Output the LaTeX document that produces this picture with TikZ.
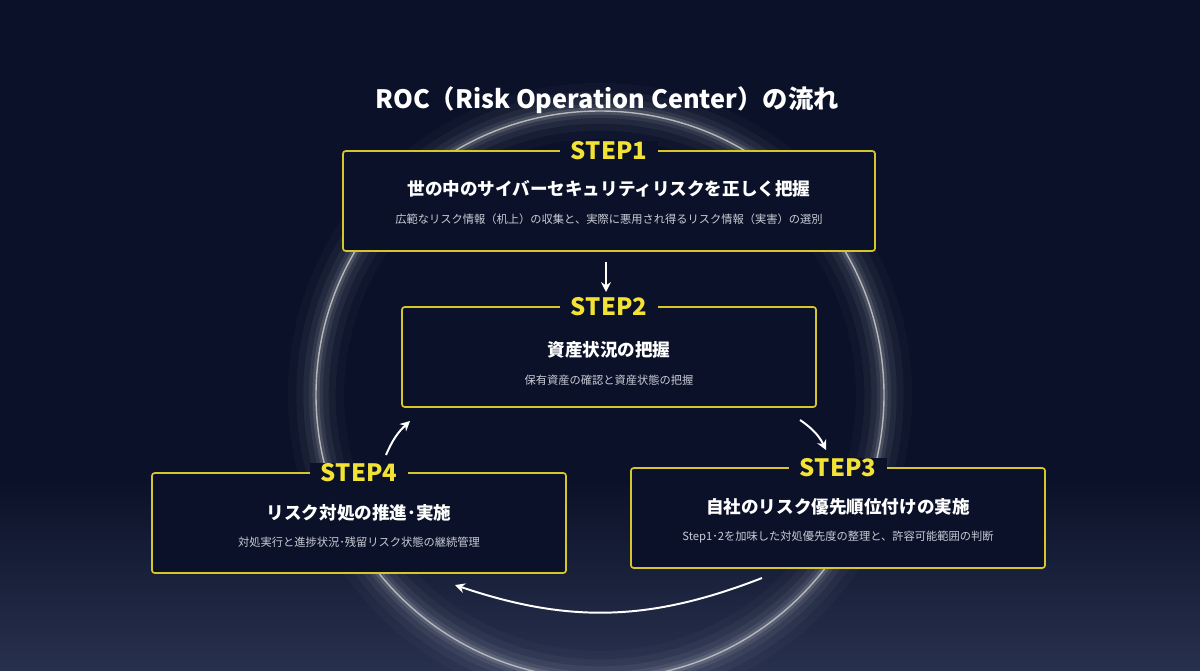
\documentclass[tikz,border=0pt]{standalone}
\usepackage{fontspec}
\setmainfont{Noto Sans CJK JP}
\usetikzlibrary{positioning,arrows.meta}
\definecolor{bgnavy}{HTML}{0B1128}
\definecolor{bglow}{HTML}{27304D}
\definecolor{gold}{HTML}{D6C62C}
\definecolor{steptxt}{HTML}{F2E236}
\definecolor{subtxt}{HTML}{C9CCD6}
\tikzset{
  box/.style={draw=gold, line width=1.2pt, rounded corners=2pt, fill=bgnavy, minimum width=#1, minimum height=2.5cm},
  steplabel/.style={fill=bgnavy, text=steptxt, font=\bfseries\fontsize{17}{17}\selectfont, inner xsep=8pt, inner ysep=0pt},
  headtxt/.style={text=white, font=\bfseries\fontsize{12.5}{14}\selectfont},
  subline/.style={text=subtxt, font=\fontsize{8}{9}\selectfont},
  flow/.style={-{Stealth[length=7pt,width=7pt]}, white, line width=1.4pt}
}
\begin{document}
\begin{tikzpicture}[x=0.025cm,y=-0.025cm]
  \useasboundingbox (0,0) rectangle (1200,670);
  % background
  \fill[bgnavy] (0,0) rectangle (1200,670);
  \shade[top color=bgnavy, bottom color=bglow] (0,480) rectangle (1200,670);

  % glowing ring
  \foreach \w/\o in {40/0.025,28/0.035,18/0.05,10/0.07,5/0.12}
    \draw[white, opacity=\o, line width=\w pt] (600,395) circle [radius=284];
  \draw[white!70!bgnavy, line width=1pt] (600,395) circle [radius=284];

  % title
  \node[text=white, font=\bfseries\fontsize{18}{20}\selectfont] (title) at (607,100) {ROC（Risk Operation Center）の流れ};

  % steps
  \node[box=13.3cm] (s1) at (609,201) {};
  \node[steplabel] at (s1.north) {STEP1};
  \node[headtxt] (h1) at (609,189) {世の中のサイバーセキュリティリスクを正しく把握};
  \node[subline] (d1) at (609,219) {広範なリスク情報（机上）の収集と、実際に悪用され得るリスク情報（実害）の選別};

  \node[box=10.35cm] (s2) at (609,357) {};
  \node[steplabel] at (s2.north) {STEP2};
  \node[headtxt] (h2) at (609,350) {資産状況の把握};
  \node[subline] (d2) at (609,380) {保有資産の確認と資産状態の把握};

  \node[box=10.35cm] (s3) at (838,518) {};
  \node[steplabel] at (s3.north) {STEP3};
  \node[headtxt] (h3) at (838,507) {自社のリスク優先順位付けの実施};
  \node[subline] (d3) at (838,537) {Step1･2を加味した対処優先度の整理と、許容可能範囲の判断};

  \node[box=10.35cm] (s4) at (359,523) {};
  \node[steplabel] at (s4.north) {STEP4};
  \node[headtxt] (h4) at (359,513) {リスク対処の推進･実施};
  \node[subline] (d4) at (359,542) {対処実行と進捗状況･残留リスク状態の継続管理};

  % connectors
  \coordinate (a1) at (606,262);
  \coordinate (a2) at (606,292);
  \draw[flow] (a1) -- (a2);
  \coordinate (b1) at (800,420);
  \coordinate (b2) at (826,450);
  \draw[flow] (b1) to[bend left=15] (b2);
  \coordinate (c1) at (762,578);
  \coordinate (c2) at (455,585);
  \draw[flow] (c1) to[bend left=20] (c2);
  \coordinate (e1) at (386,455);
  \coordinate (e2) at (410,421);
  \draw[flow] (e1) to[bend left=12] (e2);
\end{tikzpicture}
\end{document}
